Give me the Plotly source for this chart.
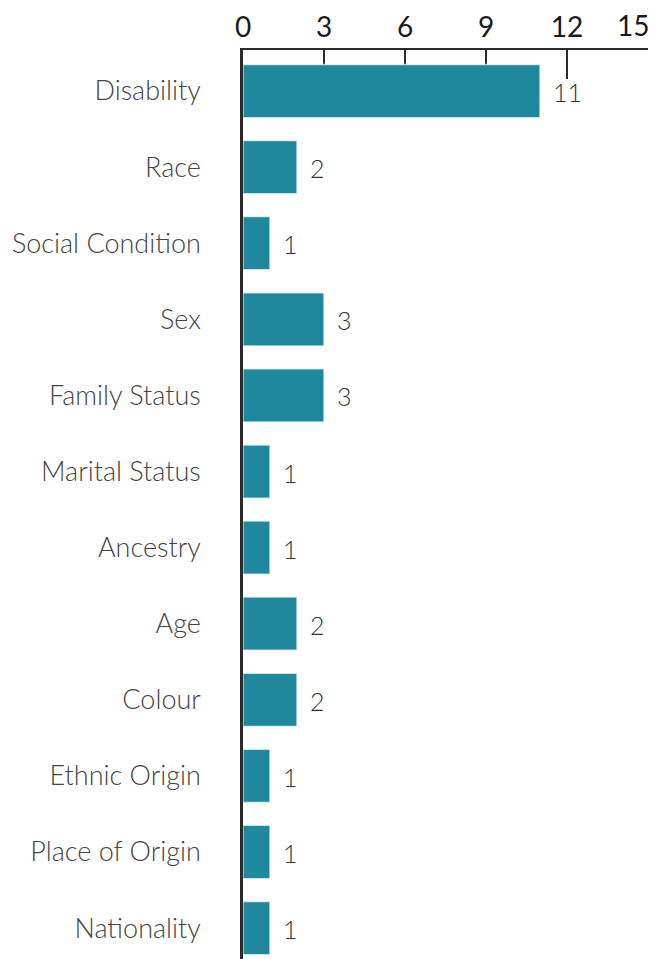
import plotly.graph_objects as go

categories = ["Disability", "Race", "Social Condition", "Sex", "Family Status",
              "Marital Status", "Ancestry", "Age", "Colour", "Ethnic Origin",
              "Place of Origin", "Nationality"]
values = [11, 2, 1, 3, 3, 1, 1, 2, 2, 1, 1, 1]
x_ticks = [0, 3, 6, 9, 12, 15]

BAR = "#1f889d"
FONT = "Lato"

fig = go.Figure()
fig.add_trace(go.Bar(
    y=categories, x=values, orientation="h",
    marker=dict(color=BAR, line=dict(color="rgba(255,255,255,0.7)", width=1.5)),
    width=0.7, hoverinfo="skip",
))

for c, v in zip(categories, values):
    fig.add_annotation(x=v, y=c, text=str(v), showarrow=False,
                       xanchor="left", yanchor="middle", xshift=11, yshift=-1,
                       font=dict(family=FONT, size=25, color="#333333", weight=300))

# last tick label is drawn inside the figure edge (right-aligned to its tick)
last = x_ticks[-1]
fig.add_annotation(x=last, xref="x", y=1, yref="paper", text=str(last),
                   showarrow=False, xanchor="right", yanchor="bottom",
                   xshift=3, yshift=6,
                   font=dict(family=FONT, size=28, color="#1a1a1a"))

# page body adds an 8px offset, so the figure is sized to the remaining area
fig.update_layout(
    width=659, height=951,
    margin=dict(l=235, r=19, t=42, b=0),
    paper_bgcolor="white", plot_bgcolor="white",
    showlegend=False,
    xaxis=dict(side="top", range=[0, 15], tickmode="array", tickvals=x_ticks,
               ticktext=[str(t) for t in x_ticks[:-1]] + [""],
               showline=True, linecolor="#2b2b2b", linewidth=2,
               ticks="inside", ticklen=29, tickwidth=2, tickcolor="#2b2b2b",
               showgrid=False, zeroline=False, layer="below traces",
               automargin=False,
               tickfont=dict(family=FONT, size=28, color="#1a1a1a")),
    yaxis=dict(categoryorder="array", categoryarray=categories,
               range=[11.406, -0.539],
               showline=True, linecolor="#2b2b2b", linewidth=2.5,
               ticks="", showgrid=False, zeroline=False,
               ticklabelstandoff=34, automargin=False,
               tickfont=dict(family=FONT, size=27, color="#444444", weight=300)),
)

fig.write_html("out.html")
